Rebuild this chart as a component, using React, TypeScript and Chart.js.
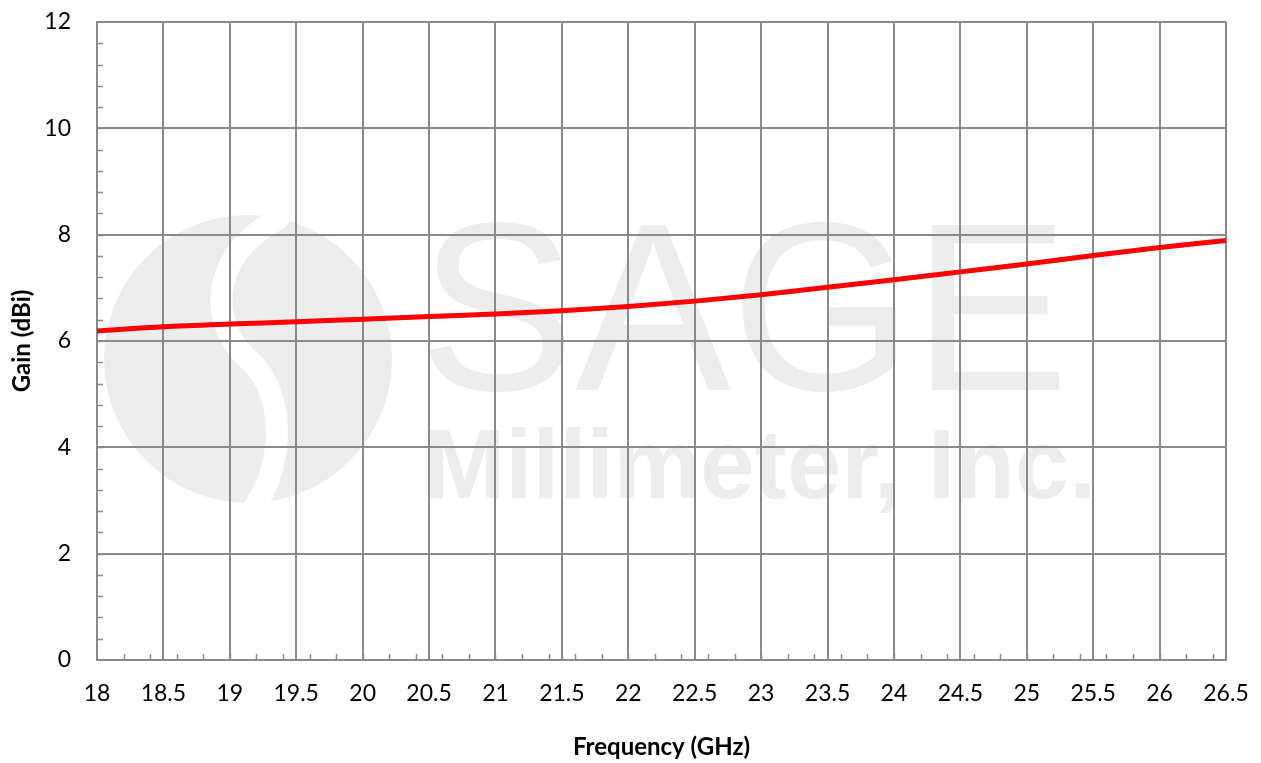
import { useEffect, useRef } from "react";
import { Chart, registerables } from "chart.js";

Chart.register(...registerables);

const frequencyGHz = [18, 18.5, 19, 19.5, 20, 20.5, 21, 21.5, 22, 22.5, 23, 23.5, 24, 24.5, 25, 25.5, 26, 26.5];
const gainDbi = [6.19, 6.27, 6.32, 6.36, 6.41, 6.46, 6.51, 6.57, 6.65, 6.75, 6.87, 7.01, 7.15, 7.3, 7.45, 7.61, 7.76, 7.89];

const xMin = 18;
const xMax = 26.5;
const xStep = 0.5;
const xMinorStep = 0.2;
const yMin = 0;
const yMax = 12;
const yStep = 2;
const yMinorStep = 0.4;

const xTitle = "Frequency (GHz)";
const yTitle = "Gain (dBi)";
const watermarkBig = "SAGE";
const watermarkSmall = "Millimeter, Inc.";

const GRID = "#8a8a8a";
const FONT = "Lato, 'Open Sans', sans-serif";

const watermarkPlugin = {
  id: "watermark",
  beforeDraw(chart: any) {
    const { ctx, chartArea } = chart;
    const L = chartArea.left;
    const T = chartArea.top;
    ctx.save();
    ctx.fillStyle = "#ededed";
    const cx = L + 151;
    const cy = T + 337;
    ctx.beginPath();
    ctx.arc(cx, cy, 144, 0, Math.PI * 2);
    ctx.fill();
    ctx.strokeStyle = "#ffffff";
    ctx.lineCap = "round";
    ctx.lineWidth = 22;
    ctx.beginPath();
    ctx.moveTo(cx + 30, cy - 140);
    ctx.bezierCurveTo(cx - 45, cy - 100, cx - 35, cy - 30, cx, cy);
    ctx.bezierCurveTo(cx + 35, cy + 30, cx + 40, cy + 100, cx + 5, cy + 150);
    ctx.stroke();
    ctx.fillStyle = "#ededed";
    ctx.textBaseline = "alphabetic";
    ctx.textAlign = "left";
    ctx.font = "240px 'Liberation Sans', Arial, sans-serif";
    ctx.fillText(watermarkBig, L + 322, T + 368, 650);
    ctx.font = "bold 98px 'Liberation Sans', Arial, sans-serif";
    ctx.fillText(watermarkSmall, L + 327, T + 476, 672);
    ctx.restore();
  },
};

const minorTicksPlugin = {
  id: "minorTicks",
  beforeDatasetsDraw(chart: any) {
    const { ctx, chartArea, scales } = chart;
    const xs = scales.x;
    const ys = scales.y;
    ctx.save();
    ctx.strokeStyle = GRID;
    ctx.lineWidth = 1.5;
    ctx.beginPath();
    for (let i = 1; yMin + i * yMinorStep < yMax - 1e-6; i++) {
      const v = yMin + i * yMinorStep;
      const py = Math.round(ys.getPixelForValue(v)) + 0.5;
      ctx.moveTo(chartArea.left, py);
      ctx.lineTo(chartArea.left + 6, py);
    }
    for (let i = 1; xMin + i * xMinorStep < xMax - 1e-6; i++) {
      const v = xMin + i * xMinorStep;
      const px = Math.round(xs.getPixelForValue(v)) + 0.5;
      ctx.moveTo(px, chartArea.bottom);
      ctx.lineTo(px, chartArea.bottom - 6);
    }
    ctx.stroke();
    ctx.restore();
  },
};

export default function App() {
  const canvasRef = useRef<HTMLCanvasElement | null>(null);

  useEffect(() => {
    document.body.style.margin = "0";
    const canvas = canvasRef.current;
    if (!canvas) return;
    const chart = new Chart(canvas, {
      type: "line",
      data: {
        datasets: [
          {
            data: frequencyGHz.map((f, i) => ({ x: f, y: gainDbi[i] })),
            borderColor: "#ff0000",
            borderWidth: 5,
            pointRadius: 0,
            tension: 0.4,
            cubicInterpolationMode: "monotone",
            fill: false,
          },
        ],
      },
      plugins: [watermarkPlugin, minorTicksPlugin],
      options: {
        animation: false,
        responsive: false,
        maintainAspectRatio: false,
        layout: { padding: { top: 22, right: 35, left: 0, bottom: 0 } },
        plugins: { legend: { display: false }, tooltip: { enabled: false } },
        scales: {
          x: {
            type: "linear",
            min: xMin,
            max: xMax,
            afterFit: (s: any) => {
              s.height = 103;
              s.paddingLeft = 0;
              s.paddingRight = 0;
            },
            ticks: {
              stepSize: xStep,
              color: "#000",
              padding: 20,
              maxRotation: 0,
              autoSkip: false,
              font: { family: FONT, size: 23 },
              callback: (v: any) => String(Number(Number(v).toFixed(2))),
            },
            grid: { color: GRID, lineWidth: 2, drawTicks: false },
            border: { color: GRID, width: 2 },
            title: {
              display: true,
              text: xTitle,
              color: "#000",
              font: { family: FONT, size: 24, weight: "bold" },
              padding: { top: 1, bottom: 1 },
            },
          },
          y: {
            min: yMin,
            max: yMax,
            afterFit: (s: any) => {
              s.width = 97;
              s.paddingTop = 0;
              s.paddingBottom = 0;
            },
            ticks: {
              stepSize: yStep,
              color: "#000",
              padding: 26,
              font: { family: FONT, size: 23 },
            },
            grid: { color: GRID, lineWidth: 2, drawTicks: false },
            border: { color: GRID, width: 2 },
            title: {
              display: true,
              text: yTitle,
              color: "#000",
              font: { family: FONT, size: 24, weight: "bold" },
              padding: { top: 8, bottom: 0 },
            },
          },
        },
      },
    } as any);
    return () => chart.destroy();
  }, []);

  return (
    <div style={{ width: 1261, height: 763, background: "#fff" }}>
      <canvas ref={canvasRef} width={1261} height={763} style={{ display: "block" }} />
    </div>
  );
}
